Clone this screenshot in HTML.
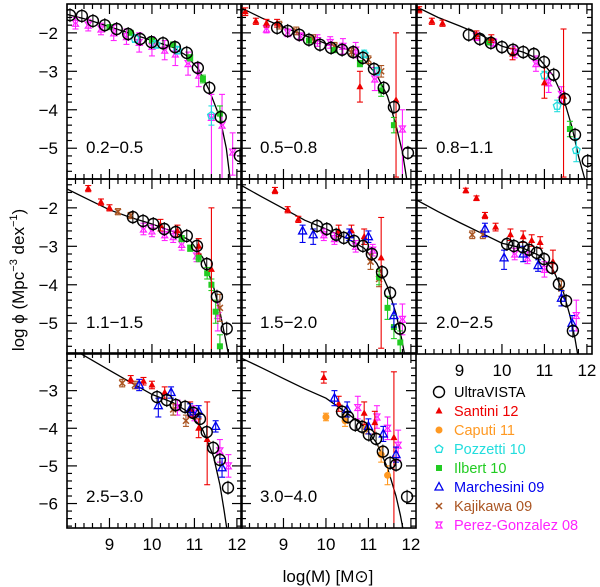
<!DOCTYPE html>
<html><head><meta charset="utf-8"><style>
html,body{margin:0;padding:0;background:#fff}
svg{display:block}
text{font-family:"Liberation Sans",sans-serif}
</style></head><body>
<svg id="chart" width="600" height="587" viewBox="0 0 600 587" xmlns="http://www.w3.org/2000/svg">
<text transform="translate(24,280) rotate(-90)" text-anchor="middle" font-size="17">log ϕ  (Mpc<tspan font-size="11" dy="-7">−3</tspan><tspan dy="7"> dex</tspan><tspan font-size="11" dy="-7">−1</tspan><tspan dy="7">)</tspan></text>
<text x="328" y="582" text-anchor="middle" font-size="17">log(M)  [M⊙]</text>
<g id="legend"></g>
</svg>
<script>
const NS="http://www.w3.org/2000/svg";
const svg=document.getElementById('chart');
const panelLabels=["0.2−0.5","0.5−0.8","0.8−1.1","1.1−1.5","1.5−2.0","2.0−2.5","2.5−3.0","3.0−4.0"];
const xTicks=[9,10,11,12];
const yTicksRow=[[-2,-3,-4,-5],[-2,-3,-4,-5],[-3,-4,-5,-6]];
const uvM=[
[8.07,8.35,8.61,8.89,9.17,9.44,9.72,9.99,10.26,10.54,10.82,11.08,11.35,11.62,12.07],
[8.85,9.1,9.37,9.6,9.86,10.12,10.38,10.64,10.87,11.13,11.36,11.6,11.93],
[9.22,9.48,9.74,10.0,10.26,10.5,10.75,10.99,11.22,11.48,11.72,12.02],
[9.55,9.79,10.03,10.29,10.56,10.82,11.06,11.29,11.53,11.76],
[9.79,10.02,10.24,10.42,10.66,10.87,11.08,11.32,11.51,11.74],
[10.12,10.28,10.49,10.64,10.82,10.99,11.18,11.34,11.51,11.67],
[10.12,10.35,10.56,10.78,10.97,11.13,11.29,11.44,11.6,11.79],
[10.38,10.52,10.69,10.85,11.01,11.18,11.34,11.51,11.65,11.91]];
const uvPhi=[
[-1.54,-1.56,-1.69,-1.8,-1.9,-2.03,-2.16,-2.24,-2.27,-2.37,-2.52,-2.91,-3.43,-4.19,-5.2],
[-1.87,-1.95,-2.05,-2.18,-2.31,-2.39,-2.44,-2.5,-2.65,-2.94,-3.43,-3.93,-5.12],
[-2.05,-2.16,-2.26,-2.37,-2.44,-2.5,-2.55,-2.76,-3.09,-3.72,-4.65,-5.33],
[-2.24,-2.34,-2.42,-2.55,-2.63,-2.73,-2.99,-3.46,-4.31,-5.14],
[-2.47,-2.55,-2.7,-2.78,-2.86,-2.99,-3.2,-3.67,-4.21,-5.14],
[-2.94,-2.99,-3.02,-3.09,-3.17,-3.33,-3.56,-3.98,-4.42,-5.2],
[-3.17,-3.25,-3.38,-3.43,-3.59,-3.75,-4.1,-4.52,-4.84,-5.58],
[-3.56,-3.7,-3.91,-3.96,-4.17,-4.28,-4.62,-4.92,-4.97,-5.82]];
const fitM=[
[8.0,8.5,9.0,9.5,10.0,10.5,10.8,11.1,11.35,11.6,11.75,11.84],
[8.0,8.5,9.0,9.5,10.0,10.5,10.9,11.2,11.45,11.65,11.8,11.9],
[8.0,8.5,9.0,9.5,10.0,10.5,10.9,11.2,11.45,11.65,11.8,11.95],
[8.0,8.5,9.0,9.5,10.0,10.5,10.9,11.2,11.45,11.6,11.72,11.8],
[8.0,8.5,9.0,9.5,10.0,10.5,10.9,11.2,11.45,11.65,11.78,11.85],
[8.0,8.5,9.0,9.5,10.0,10.5,10.9,11.2,11.45,11.6,11.72,11.78],
[8.3,8.5,9.0,9.5,10.0,10.5,10.9,11.2,11.45,11.6,11.7,11.76],
[8.0,8.5,9.0,9.5,10.0,10.5,10.9,11.2,11.45,11.65,11.75,11.81]];
const fitPhi=[
[-1.52,-1.66,-1.84,-2.02,-2.2,-2.38,-2.58,-2.95,-3.5,-4.2,-5.0,-5.8],
[-1.35,-1.62,-1.85,-2.07,-2.28,-2.43,-2.7,-3.1,-3.65,-4.4,-5.1,-5.8],
[-1.33,-1.6,-1.82,-2.05,-2.35,-2.5,-2.7,-3.1,-3.7,-4.45,-5.2,-5.8],
[-1.51,-1.78,-2.05,-2.25,-2.42,-2.62,-2.85,-3.3,-4.05,-4.7,-5.35,-5.8],
[-1.41,-1.72,-2.02,-2.32,-2.55,-2.8,-3.05,-3.45,-4.05,-4.75,-5.4,-5.8],
[-1.8,-2.1,-2.38,-2.65,-2.92,-3.05,-3.25,-3.6,-4.2,-4.8,-5.4,-5.8],
[-2.0,-2.13,-2.46,-2.78,-3.1,-3.32,-3.6,-4.05,-4.75,-5.5,-6.2,-6.65],
[-2.13,-2.4,-2.68,-2.95,-3.2,-3.6,-3.95,-4.4,-5.05,-5.8,-6.3,-6.65]];
const santini=[[1,8.1,-1.45,.1,.1],[1,8.35,-1.7,.08,.08],[1,8.6,-1.75,.1,.1],[1,8.85,-1.75,.1,.1],[1,10.8,-3.4,.4,.4],[1,11.65,-3.75,2.0,1.75],
[2,8.05,-1.4,.08,.08],[2,8.35,-1.7,.08,.08],[2,8.6,-1.75,.08,.08],[2,9.4,-2.05,.1,.1],[2,9.75,-2.15,.1,.1],[2,10.25,-2.55,.15,.15],[2,11.0,-3.3,.4,.4],[2,11.45,-3.65,2.1,1.75],
[3,8.5,-1.5,.08,.08],[3,8.8,-1.85,.08,.08],[3,9.0,-2.0,.08,.08],[3,10.2,-2.45,.15,.15],[3,10.6,-2.6,.15,.15],[3,11.1,-3.0,.2,.2],[3,11.4,-3.6,2.2,1.6],
[4,8.8,-1.55,.08,.08],[4,9.1,-2.05,.08,.08],[4,9.35,-2.3,.08,.08],[4,10.3,-2.6,.15,.15],[4,10.6,-2.6,.15,.15],[4,10.9,-2.75,.2,.2],[4,11.3,-3.3,2.35,1.05],
[5,9.15,-1.55,.06,.06],[5,9.4,-1.75,.06,.06],[5,9.6,-2.2,.08,.08],[5,9.85,-2.5,.1,.1],[5,10.2,-2.7,.15,.15],[5,10.5,-2.75,.15,.15],[5,10.7,-2.85,.15,.15],[5,10.9,-2.9,.15,.15],[5,11.2,-3.4,.3,.3],
[6,9.5,-2.7,.1,.1],[6,9.8,-2.75,.1,.1],[6,10.0,-2.85,.1,.1],[6,10.3,-3.05,.15,.15],[6,10.9,-3.5,.2,.2],[6,11.1,-4.0,.25,.25],[6,11.3,-4.3,1.2,1.0],
[7,9.95,-2.65,.15,.15],[7,10.3,-3.35,.2,.2],[7,10.9,-3.6,.3,.3],[7,11.15,-3.85,.3,.3],[7,11.6,-4.25,2.4,1.75]];
const caputi=[[7,10.0,-3.7,.1,.1],[7,10.45,-3.8,.15,.15],[7,10.95,-4.0,.15,.15],[7,11.3,-4.7,.2,.2],[7,11.45,-5.25,.25,.25]];
const pozzetti=[[0,9.6,-2.15,.1,.1],[0,10.1,-2.3,.1,.1],[0,10.6,-2.45,.1,.1],[0,11.4,-4.15,.25,.25],[1,10.9,-2.55,.1,.1],[1,11.2,-3.0,.1,.1],[2,11.0,-3.1,.1,.1],[2,11.3,-3.9,.15,.15],[2,11.75,-5.05,.3,.3]];
const ilbert=[[0,9.0,-1.85,.05,.05],[0,9.5,-2.0,.05,.05],[0,10.0,-2.2,.05,.05],[0,10.5,-2.3,.05,.05],[0,10.9,-2.65,.08,.08],[0,11.2,-3.2,.1,.1],[0,11.6,-4.1,.2,.2],
[1,9.6,-2.2,.05,.05],[1,10.2,-2.45,.05,.05],[1,10.8,-2.8,.08,.08],[1,11.3,-3.5,.15,.15],[1,11.6,-4.4,.2,.2],[2,9.7,-2.25,.05,.05],[2,11.6,-4.5,.2,.2],
[3,10.7,-2.8,.08,.08],[3,10.9,-3.05,.08,.08],[3,11.1,-3.3,.1,.1],[3,11.3,-3.7,.15,.15],[3,11.4,-4.0,.15,.15],[3,11.5,-4.7,.3,.3],[3,11.6,-5.6,.3,.3],
[4,11.25,-3.8,.2,.2],[4,11.45,-4.6,.3,.3],[4,11.6,-5.1,.3,.3],[4,11.75,-5.5,.3,.3]];
const marchesini=[[4,9.45,-2.6,.3,.15],[4,9.7,-2.7,.25,.15],[4,10.55,-2.7,.15,.15],[4,11.0,-2.75,.15,.15],[4,11.6,-4.8,.3,.3],
[5,9.6,-2.55,.2,.15],[5,10.05,-3.3,.3,.2],[5,10.5,-3.2,.2,.2],[5,10.85,-3.5,.15,.15],[5,11.4,-4.35,.2,.2],[5,11.65,-5.0,.2,.2],
[6,9.7,-2.85,.15,.15],[6,10.15,-3.4,.3,.2],[6,10.45,-3.05,.15,.15],[6,10.9,-3.5,.15,.15],[6,11.1,-3.55,.15,.15],[6,11.5,-3.95,.15,.15],[6,11.65,-5.05,.25,.25],
[7,10.2,-3.2,.2,.2],[7,10.5,-3.5,.2,.2],[7,11.0,-3.95,.2,.2],[7,11.35,-4.15,.2,.2],[7,11.65,-4.7,.2,.2]];
const kajikawa=[[1,8.9,-1.8,.1,.1],[1,9.3,-1.95,.1,.1],[1,9.7,-2.15,.1,.1],[1,10.2,-2.35,.1,.1],[1,10.6,-2.5,.1,.1],[1,11.0,-2.7,.1,.1],[1,11.3,-3.0,.15,.15],
[3,9.2,-2.1,.08,.08],[3,9.5,-2.2,.08,.08],[3,11.6,-4.6,.35,.35],[4,11.05,-3.4,.2,.2],[4,11.25,-3.85,.2,.2],[5,9.3,-2.7,.1,.1],[5,9.55,-2.7,.1,.1],[5,11.4,-4.1,.2,.2],
[6,9.3,-2.8,.1,.1],[6,9.6,-2.85,.1,.1],[6,10.5,-3.5,.15,.15],[6,10.8,-3.8,.15,.15]];
const perez=[[0,8.2,-1.75,.15,.15],[0,8.5,-1.8,.15,.15],[0,8.8,-1.9,.15,.15],[0,9.1,-2.0,.2,.2],[0,9.4,-2.1,.2,.2],[0,9.7,-2.25,.25,.25],[0,10.0,-2.35,.25,.25],[0,10.3,-2.45,.25,.25],[0,10.55,-2.55,.3,.3],[0,10.85,-2.8,.3,.3],[0,11.1,-3.1,.3,.3],[0,11.4,-4.2,1.6,.6],[0,11.65,-4.4,1.4,.8],[0,11.9,-5.1,.6,.5],
[1,8.6,-1.9,.1,.1],[1,9.1,-2.0,.1,.1],[1,9.4,-2.1,.1,.1],[1,9.8,-2.2,.15,.15],[1,10.1,-2.25,.15,.15],[1,10.4,-2.35,.2,.2],[1,10.7,-2.45,.2,.2],[1,11.15,-3.2,.3,.3],[1,11.8,-4.5,1.3,.5],
[2,9.4,-2.1,.1,.1],[2,9.8,-2.25,.1,.1],[2,10.3,-2.5,.15,.15],[2,10.8,-2.8,.2,.2],[2,11.1,-3.3,.25,.25],[2,11.4,-3.6,.2,.2],
[3,9.8,-2.55,.15,.15],[3,10.0,-2.6,.15,.15],[3,10.3,-2.7,.15,.15],[3,10.5,-2.75,.15,.15],[3,10.7,-2.95,.15,.15],[3,11.05,-3.25,.15,.15],[3,11.55,-4.8,.4,.4],
[4,9.95,-2.7,.15,.15],[4,10.2,-2.8,.15,.15],[4,10.7,-3.0,.15,.15],[4,11.1,-3.1,.15,.15],[4,11.8,-4.9,.4,.4],
[5,10.3,-3.2,.15,.15],[5,10.6,-3.3,.15,.15],[5,11.0,-3.6,.2,.2],[5,11.75,-4.8,.4,.4],
[6,10.6,-3.45,.2,.2],[6,11.0,-3.6,.2,.2],[6,11.6,-4.6,.3,.3],[6,11.8,-5.0,.3,.3],
[7,10.75,-3.45,.3,.3],[7,11.2,-3.7,.3,.3],[7,11.45,-4.0,.3,.3],[7,11.7,-4.45,.4,.4]];
const legendNames=["UltraVISTA","Santini 12","Caputi 11","Pozzetti 10","Ilbert 10","Marchesini 09","Kajikawa 09","Perez-Gonzalez 08"];

const colLeft=[67,241,417],colW=175;
const rowTop=[4,179,353],rowH=175;
const xMin=8.0,xMax=12.12;
const yRanges=[[-1.25,-5.8],[-1.25,-5.8],[-2.0,-6.65]];
const C={santini:'#ee0000',caputi:'#ff9922',pozzetti:'#22dddd',ilbert:'#22cc22',marchesini:'#0000ee',kajikawa:'#aa5522',perez:'#ff22ff'};

function el(t,a,p){const e=document.createElementNS(NS,t);for(const k in a)e.setAttribute(k,a[k]);(p||svg).appendChild(e);return e;}
function panelGeom(i){const r=Math.floor(i/3),c=i%3;const yr=yRanges[r];
 return {r,c,x:m=>colLeft[c]+(m-xMin)/(xMax-xMin)*colW,y:v=>rowTop[r]+(yr[0]-v)/(yr[0]-yr[1])*rowH,L:colLeft[c],T:rowTop[r],yr};}

function marker(g,type,cx,cy,col){
 let e;
 if(type==='tri') e=el('polygon',{points:`${cx},${cy-4} ${cx-3.5},${cy+2.5} ${cx+3.5},${cy+2.5}`,fill:col},g);
 else if(type==='otri') e=el('polygon',{points:`${cx},${cy-4.5} ${cx-4},${cy+3} ${cx+4},${cy+3}`,fill:'none',stroke:col,'stroke-width':1.3},g);
 else if(type==='dot') e=el('circle',{cx,cy,r:3.5,fill:col},g);
 else if(type==='pent') e=el('polygon',{points:`${cx},${cy-4} ${cx+3.8},${cy-1.2} ${cx+2.4},${cy+3.3} ${cx-2.4},${cy+3.3} ${cx-3.8},${cy-1.2}`,fill:'none',stroke:col,'stroke-width':1.3},g);
 else if(type==='sq') e=el('rect',{x:cx-3,y:cy-3,width:6,height:6,fill:col},g);
 else if(type==='x'){e=el('path',{d:`M${cx-3},${cy-3}L${cx+3},${cy+3}M${cx-3},${cy+3}L${cx+3},${cy-3}`,stroke:col,'stroke-width':1.5},g);}
 else if(type==='star'){e=el('path',{d:`M${cx-3},${cy-3}L${cx+3},${cy-3}L${cx+1},${cy}L${cx+3},${cy+3}L${cx-3},${cy+3}L${cx-1},${cy}Z`,fill:'none',stroke:col,'stroke-width':1.2},g);}
 else e=el('circle',{cx,cy,r:5.5,fill:'none',stroke:col,'stroke-width':1.4},g);
 return e;
}

for(let i=0;i<8;i++){
 const P=panelGeom(i);
 const g=el('g',{});
 
 
 const cp=el('clipPath',{id:'cp'+i},g);el('rect',{x:P.L,y:P.T,width:colW,height:rowH},cp);
 const dg=el('g',{'clip-path':`url(#cp${i})`},g);
 const pts=fitM[i].map((m,k)=>P.x(m).toFixed(1)+','+P.y(fitPhi[i][k]).toFixed(1)).join(' ');
 const fl=el('polyline',{points:pts,fill:'none',stroke:'#000','stroke-width':1.3},dg);
 
 
 const sets=[['perez',perez,'star'],['kajikawa',kajikawa,'x'],['ilbert',ilbert,'sq'],['pozzetti',pozzetti,'pent'],['caputi',caputi,'dot'],['santini',santini,'tri'],['marchesini',marchesini,'otri']];
 for(const [nm,arr,tp] of sets){
  for(const d of arr){ if(d[0]!==i) continue;
   const cx=P.x(d[1]),cy=P.y(d[2]),col=C[nm];
   el('line',{x1:cx,x2:cx,y1:P.y(d[2]+d[4]),y2:P.y(d[2]-d[3]),stroke:col,'stroke-width':1.1},dg);
   el('line',{x1:cx-3,x2:cx+3,y1:P.y(d[2]+d[4]),y2:P.y(d[2]+d[4]),stroke:col,'stroke-width':1.1},dg);
   el('line',{x1:cx-3,x2:cx+3,y1:P.y(d[2]-d[3]),y2:P.y(d[2]-d[3]),stroke:col,'stroke-width':1.1},dg);
   const mk=marker(dg,tp,cx,cy,col);
   
   
  }
 }
 uvM[i].forEach((m,k)=>{
  const cx=P.x(m),cy=P.y(uvPhi[i][k]);
  el('line',{x1:cx,x2:cx,y1:cy-7,y2:cy+7,stroke:'#000','stroke-width':1},dg);
  const c=marker(dg,'circ',cx,cy,'#000');
  
  
 });
 el('rect',{x:P.L,y:P.T,width:colW,height:rowH,fill:'none',stroke:'#000','stroke-width':1.6},g);
 for(let m=8.0;m<=12.12;m+=0.2){const mm=Math.round(m*10)/10;const maj=Math.abs(mm-Math.round(mm))<1e-6;const len=maj?10:5;const X=P.x(mm);
  el('line',{x1:X,x2:X,y1:P.T+rowH,y2:P.T+rowH-len,stroke:'#000','stroke-width':1.2},g);
  el('line',{x1:X,x2:X,y1:P.T,y2:P.T+len,stroke:'#000','stroke-width':1.2},g);}
 for(let v=-1.4;v>=P.yr[1];v-=0.2){const vv=Math.round(v*10)/10;if(vv>P.yr[0])continue;const maj=Math.abs(vv-Math.round(vv))<1e-6;const len=maj?10:5;const Y=P.y(vv);
  el('line',{x1:P.L,x2:P.L+len,y1:Y,y2:Y,stroke:'#000','stroke-width':1.2},g);
  el('line',{x1:P.L+colW,x2:P.L+colW-len,y1:Y,y2:Y,stroke:'#000','stroke-width':1.2},g);}
 const lb=el('text',{x:P.L+19,y:P.T+rowH-26,'font-size':17},g);lb.textContent=panelLabels[i];
 
 
 if(P.c===0){yTicksRow[P.r].forEach(v=>{const t=el('text',{x:58,y:P.y(v)+6,'text-anchor':'end','font-size':17},g);t.textContent='−'+Math.abs(v);
  
  });}
 if(P.r===2||i===5){xTicks.forEach(m=>{const t=el('text',{x:P.x(m),y:P.T+rowH+22,'text-anchor':'middle','font-size':17},g);t.textContent=m;
  
  });}
}
const lg=document.getElementById('legend');
const lgCols=['#000',C.santini,C.caputi,C.pozzetti,C.ilbert,C.marchesini,C.kajikawa,C.perez];
const lgTypes=['circ','tri','dot','pent','sq','otri','x','star'];
legendNames.forEach((n,k)=>{
 const y=392+k*19;
 const it=el('g',{},lg);
 
 
 marker(it,lgTypes[k],439,y,lgCols[k]);
 const t=el('text',{x:454,y:y+5,'font-size':14.5,fill:lgCols[k],'font-family':'Liberation Mono, monospace'},it);t.textContent=n;
});
</script>
</body></html>
